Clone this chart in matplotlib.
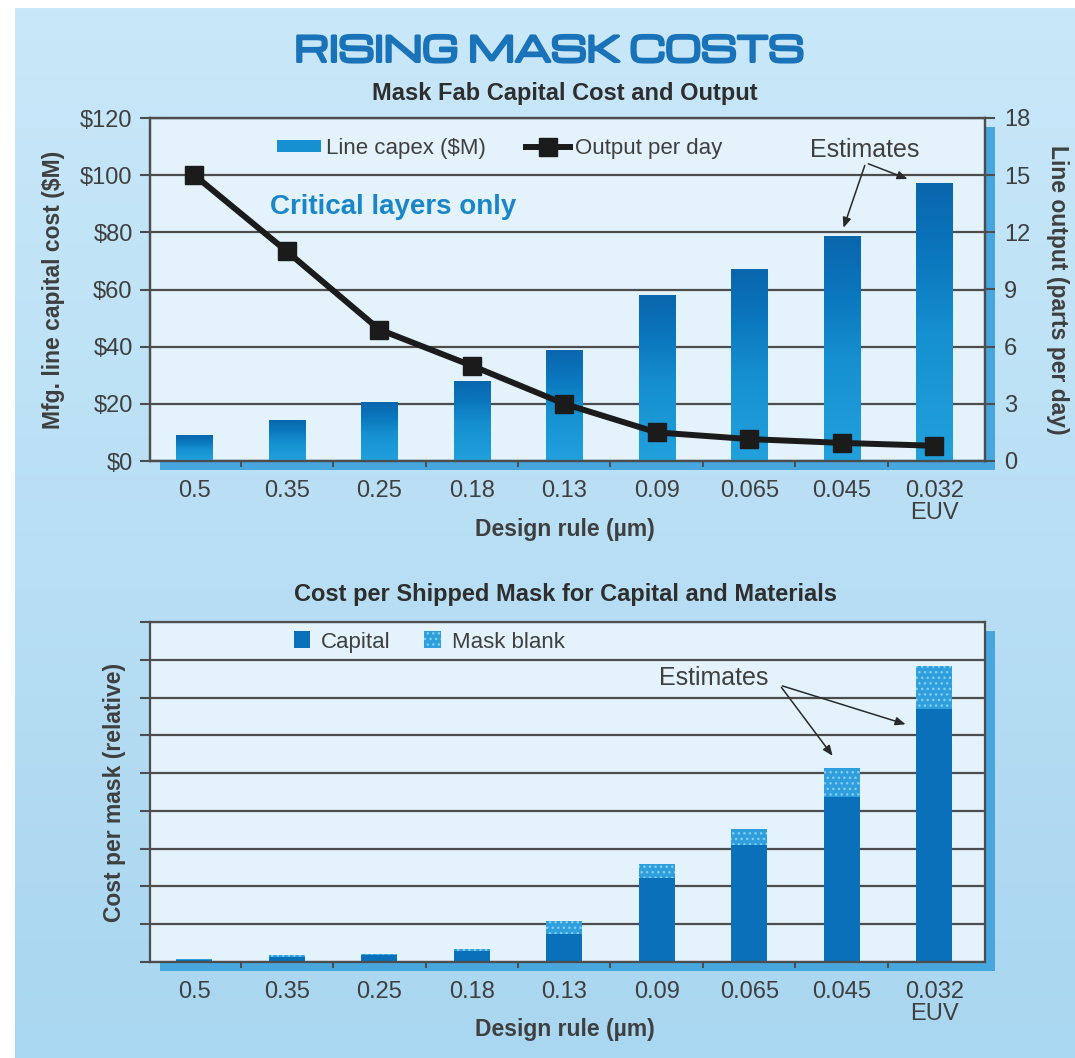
import numpy as np
import matplotlib.pyplot as plt
import matplotlib.patheffects as pe
from matplotlib.patches import Rectangle, Patch
from matplotlib.lines import Line2D
from matplotlib.colors import LinearSegmentedColormap

# design rule nodes (µm)
design_rules = ['0.5', '0.35', '0.25', '0.18', '0.13', '0.09', '0.065', '0.045', '0.032\nEUV']

# mask fab capital cost ($M) and line output (parts per day)
line_capex = [9.0, 14.5, 20.8, 28.1, 39.0, 58.0, 67.0, 78.7, 97.4]
output_per_day = [15.0, 11.0, 6.9, 5.0, 3.0, 1.5, 1.15, 0.95, 0.8]

# cost per shipped mask (relative units)
capital_cost = [0.04, 0.13, 0.18, 0.29, 0.75, 2.22, 3.10, 4.37, 6.71]
mask_blank_cost = [0.05, 0.05, 0.04, 0.06, 0.34, 0.38, 0.43, 0.77, 1.12]

plt.rcParams['font.family'] = ['Liberation Sans', 'DejaVu Sans']
wide = ['Michroma', 'DejaVu Sans']
grey = '#3f3f3f'
grid_c = '#4d4d4d'
plot_bg = '#e3f2fb'
shadow_c = '#47a6de'
fs = 17      # tick labels
lfs = 16.5   # axis labels

W, H = 1075, 1058
fig = plt.figure(figsize=(W / 100, H / 100), dpi=100, facecolor='white')

# page background gradient
bg = fig.add_axes([15 / W, 0, 1 - 15 / W, 1 - 8 / H], zorder=-5)
bg_cmap = LinearSegmentedColormap.from_list('bg', ['#a9d6f0', '#c9e8f9'])
bg.imshow(np.linspace(0, 1, 256).reshape(-1, 1), cmap=bg_cmap, aspect='auto',
          origin='lower', extent=[0, 1, 0, 1])
bg.axis('off')

bar_cmap = LinearSegmentedColormap.from_list(
    'bar', [(0, '#22a1dd'), (0.45, '#1690d0'), (0.75, '#0a76bd'), (1, '#0a66ad')])

x = np.arange(len(design_rules))
xlim = (-0.48, 8.55)
bw = 0.39


def frame_shadow(ax_rect):
    l, b, w, h = ax_rect
    dx, dy = 10 / W, 9 / H
    fig.patches.append(Rectangle((l + dx, b - dy), w, h, transform=fig.transFigure,
                                 facecolor=shadow_c, edgecolor='none', zorder=-1))


def style_axes(ax):
    ax.set_facecolor(plot_bg)
    ax.set_xlim(xlim)
    for s in ax.spines.values():
        s.set_color(grid_c)
        s.set_linewidth(1.6)
    ax.set_axisbelow(True)
    ax.yaxis.grid(True, color=grid_c, linewidth=1.6)
    ax.set_xticks(x)
    ax.set_xticklabels(design_rules, fontsize=fs, color=grey, linespacing=1.0)
    ax.set_xticks(x[:-1] + 0.5, minor=True)
    ax.tick_params(axis='x', which='major', length=0, pad=14)
    ax.tick_params(axis='x', which='minor', length=4.5, width=1.4, color=grid_c, direction='out')
    ax.tick_params(axis='y', length=7.5, width=1.5, pad=5, color=grid_c,
                   labelsize=fs, labelcolor=grey)


# ---------- top chart: capital cost and output ----------
r1 = [150 / W, 1 - 461 / H, 835 / W, 343 / H]
frame_shadow(r1)
ax1 = fig.add_axes(r1)
style_axes(ax1)

bars = ax1.bar(x, line_capex, width=bw, color='#1690d0', linewidth=0, zorder=2)
grad = np.linspace(0, 1, 200).reshape(-1, 1)
for b in bars:
    im = ax1.imshow(grad, cmap=bar_cmap, aspect='auto', origin='lower', zorder=3,
                    extent=[b.get_x(), b.get_x() + b.get_width(), 0, b.get_height()])
    im.set_clip_path(b)
ax1.set_xlim(xlim)
ax1.set_ylim(0, 120)
ax1.set_yticks(range(0, 121, 20))
ax1.set_yticklabels([f'${v}' for v in range(0, 121, 20)])
ax1.set_ylabel('Mfg. line capital cost ($M)', fontsize=lfs, fontweight='bold',
               color=grey, labelpad=11)
ax1.set_xlabel('Design rule (µm)', fontsize=lfs, fontweight='bold', color=grey)
ax1.xaxis.set_label_coords(0.497, -0.165)

ax1r = ax1.twinx()
ax1r.plot(x, output_per_day, color='#1b1b1b', linewidth=4.3, marker='s', markersize=13,
          zorder=5)
ax1r.set_ylim(0, 18)
ax1r.set_yticks(range(0, 19, 3))
ax1r.tick_params(axis='y', length=7.5, width=1.5, pad=6, color=grid_c,
                 labelsize=fs, labelcolor=grey)
for s in ax1r.spines.values():
    s.set_color(grid_c)
    s.set_linewidth(1.6)
ax1r.set_ylabel('Line output (parts per day)', fontsize=lfs, fontweight='bold',
                color=grey, rotation=270, labelpad=28)

h1 = [Patch(facecolor='#1690d0', edgecolor='none'),
      Line2D([], [], color='#1b1b1b', linewidth=4.3, marker='s', markersize=13)]
leg1 = ax1r.legend(h1, ['Line capex ($M)', 'Output per day'], loc='center left',
                   bbox_to_anchor=(0.128, 0.912), ncol=2, frameon=False,
                   handlelength=2.0, handleheight=0.45, handletextpad=0.2, columnspacing=1.8,
                   prop={'size': 16})
for t in leg1.get_texts():
    t.set_color(grey)

ax1r.text(0.144, 0.74, 'Critical layers only', transform=ax1.transAxes, fontsize=20,
          fontweight='bold', color='#1a86c8', va='center', ha='left')

ax1r.text(7.25, 16.3, 'Estimates', fontsize=18, color=grey, ha='center', va='center')
for tx, ty in [(7.01, 12.1), (7.74, 14.75)]:
    ax1r.annotate('', xy=(tx, ty), xytext=(7.26, 15.65),
                  arrowprops=dict(arrowstyle='-|>,head_length=0.6,head_width=0.25',
                                  color='#2a2a2a', lw=1.1))

# ---------- bottom chart: cost per shipped mask ----------
r2 = [150 / W, 1 - 962 / H, 835 / W, 340 / H]
frame_shadow(r2)
ax2 = fig.add_axes(r2)
style_axes(ax2)
ax2.bar(x, capital_cost, width=bw, color='#0a70b9', linewidth=0, zorder=2)
ax2.bar(x, mask_blank_cost, bottom=capital_cost, width=bw, color='#2e9fdc',
        edgecolor='#86cdf2', hatch='...', linewidth=0, zorder=2)
ax2.set_ylim(0, 9)
ax2.set_yticks(range(0, 10))
ax2.set_yticklabels([])
ax2.set_ylabel('Cost per mask (relative)', fontsize=lfs, fontweight='bold',
               color=grey, labelpad=5)
ax2.set_xlabel('Design rule (µm)', fontsize=lfs, fontweight='bold', color=grey)
ax2.xaxis.set_label_coords(0.497, -0.165)

h2 = [Patch(facecolor='#0a70b9', edgecolor='none'),
      Patch(facecolor='#2e9fdc', edgecolor='#86cdf2', hatch='...', linewidth=0)]
leg2 = ax2.legend(h2, ['Capital', 'Mask blank'], loc='center left',
                  bbox_to_anchor=(0.148, 0.941), ncol=2, frameon=False,
                  handlelength=0.75, handleheight=0.8, handletextpad=0.5, columnspacing=1.5,
                  prop={'size': 16})
for t in leg2.get_texts():
    t.set_color(grey)

ax2.text(5.62, 7.52, 'Estimates', fontsize=18, color=grey, ha='center', va='center')
for tx, ty in [(6.92, 5.4), (7.72, 6.27)]:
    ax2.annotate('', xy=(tx, ty), xytext=(6.33, 7.33),
                 arrowprops=dict(arrowstyle='-|>,head_length=0.6,head_width=0.25',
                                 color='#2a2a2a', lw=1.1))

# headings
fig.text(549 / W, 1 - 52 / H, 'RISING MASK COSTS', family=wide, fontsize=24.5,
         color='#1a72b8', ha='center', va='center',
         path_effects=[pe.withStroke(linewidth=2.2, foreground='#1a72b8')])
fig.text(565 / W, 1 - 93 / H, 'Mask Fab Capital Cost and Output',
         fontsize=17, fontweight='bold', color='#2e2e2e', ha='center', va='center')
fig.text(565 / W, 1 - 594 / H, 'Cost per Shipped Mask for Capital and Materials',
         fontsize=17, fontweight='bold', color='#2e2e2e', ha='center', va='center')

fig.savefig('out.png', dpi=100, facecolor=fig.get_facecolor())
